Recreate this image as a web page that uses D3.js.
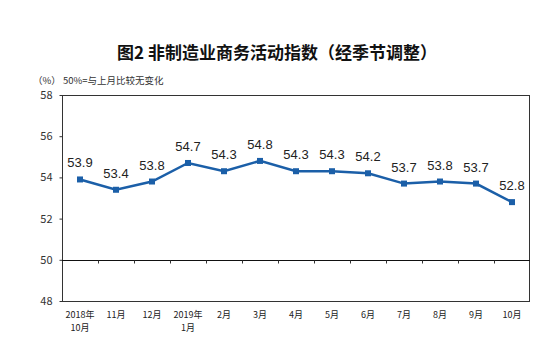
<!DOCTYPE html>
<html><head><meta charset="utf-8">
<script src="https://cdn.jsdelivr.net/npm/d3@7"></script>
<style>body{margin:0;background:#fff;} svg{display:block;}</style>
</head><body>
<svg id="c" width="551" height="340"></svg>
<script>
const categories = [["2018年","10月"],["11月"],["12月"],["2019年","1月"],["2月"],["3月"],["4月"],["5月"],["6月"],["7月"],["8月"],["9月"],["10月"]];
const values = [53.9,53.4,53.8,54.7,54.3,54.8,54.3,54.3,54.2,53.7,53.8,53.7,52.8];
const yTicks = [48,50,52,54,56,58];
const title = "图2  非制造业商务活动指数（经季节调整）";
const note = "（%）  50%=与上月比较无变化";

const svg = d3.select("#c");
const m = {l:62, r:530, t:95, b:301};
const x = d3.scaleBand().domain(d3.range(categories.length)).range([m.l, m.r]);
const y = d3.scaleLinear().domain([48,58]).range([m.b, m.t]);
const font = "'Noto Sans CJK SC', 'Noto Sans', sans-serif";

svg.append("text").attr("x", 277).attr("y", 59).attr("text-anchor","middle")
  .attr("font-family", font).attr("font-size", 17).attr("font-weight","bold").attr("fill","#111").text(title);
svg.append("text").attr("x", 33).attr("y", 84)
  .attr("font-family", font).attr("font-size", 9.5).attr("fill","#333").text(note);

// plot border
svg.append("rect").attr("x", m.l+0.5).attr("y", m.t+0.5).attr("width", m.r-m.l-1).attr("height", m.b-m.t)
  .attr("fill","none").attr("stroke","#333").attr("stroke-width",1);

// y axis
const yAxis = d3.axisLeft(y).tickValues(yTicks).tickSize(3).tickFormat(d3.format("d"));
const ga = svg.append("g").attr("transform", `translate(${m.l+0.5},0)`).call(yAxis);
ga.select(".domain").remove();
ga.selectAll("line").attr("stroke","#333");
ga.selectAll("text").attr("font-family", font).attr("font-size", 11).attr("fill","#333").attr("x",-10);

// x axis at 50
const xAxis = d3.axisBottom(d3.scaleLinear().domain([0,categories.length]).range([m.l, m.r]))
  .tickValues(d3.range(1, categories.length)).tickSize(3).tickFormat("");
const gx = svg.append("g").attr("transform", `translate(0,${Math.round(y(50))+0.5})`).call(xAxis);
gx.select(".domain").attr("stroke","#111").attr("d", `M${m.l},0H${m.r}`);
gx.selectAll("line").attr("stroke","#333");

// x labels
const xl = svg.append("g");
categories.forEach((c,i)=>{
  c.forEach((s,j)=> xl.append("text").attr("x", x(i)+x.bandwidth()/2).attr("y", 318 + j*12.5)
    .attr("text-anchor","middle").attr("font-family", font).attr("font-size", 9).attr("fill","#222").text(s));
});

// line
const cx = i => x(i)+x.bandwidth()/2;
const line = d3.line().x((d,i)=>cx(i)).y(d=>y(d));
svg.append("path").datum(values).attr("d", line).attr("fill","none").attr("stroke","#1b5fa8").attr("stroke-width",2.5);
svg.selectAll(".mk").data(values).enter().append("rect")
  .attr("x",(d,i)=>cx(i)-3).attr("y",d=>y(d)-3).attr("width",6).attr("height",6).attr("fill","#1b5fa8");
svg.selectAll(".lb").data(values).enter().append("text")
  .attr("x",(d,i)=>cx(i)).attr("y",d=>y(d)-12).attr("text-anchor","middle")
  .attr("font-family","'Liberation Sans', Arial, sans-serif").attr("font-size",13).attr("fill","#222")
  .text(d=>d.toFixed(1));
</script>
</body></html>
